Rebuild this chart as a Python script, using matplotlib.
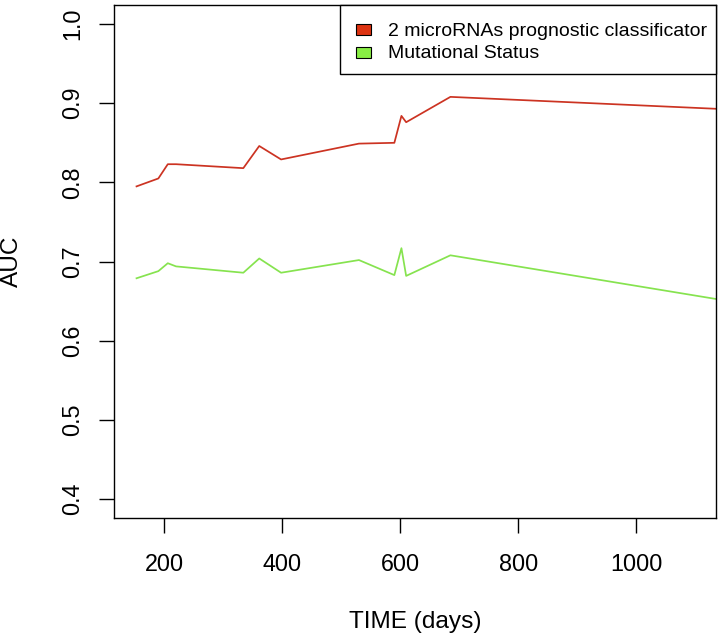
import matplotlib
matplotlib.use("Agg")
import matplotlib.pyplot as plt
from matplotlib.patches import Rectangle

plt.rcParams['font.family'] = ['Liberation Sans', 'DejaVu Sans']

# time points (days) and AUC values
days = [153, 190, 206, 220, 334, 361, 398, 530, 590, 602, 610, 685, 1134]
auc_mirna = [0.795, 0.805, 0.823, 0.823, 0.818, 0.846, 0.829, 0.849, 0.850, 0.884, 0.876, 0.908, 0.893]
auc_mut = [0.679, 0.688, 0.698, 0.694, 0.686, 0.704, 0.686, 0.702, 0.683, 0.717, 0.682, 0.708, 0.653]

labels = ["2 microRNAs prognostic classificator", "Mutational Status"]
line_cols = ["#cc3322", "#86e34f"]
fill_cols = ["#dd3311", "#88ee44"]

fig = plt.figure(figsize=(7.21, 6.39), dpi=100)
ax = fig.add_axes([0.1585, 0.1889, 0.8341, 0.8033])

ax.plot(days, auc_mirna, color=line_cols[0], lw=1.25)
ax.plot(days, auc_mut, color=line_cols[1], lw=1.25)

ax.set_xlim(115.3, 1134.6)
ax.set_ylim(0.376, 1.024)
ax.set_xticks([200, 400, 600, 800, 1000])
ax.set_yticks([0.4, 0.5, 0.6, 0.7, 0.8, 0.9, 1.0])
ax.set_yticklabels(["0.4", "0.5", "0.6", "0.7", "0.8", "0.9", "1.0"], rotation=90, va='center')
ax.tick_params(axis='both', labelsize=16.8, length=10.8, width=1.0)
ax.tick_params(axis='x', pad=14)
ax.tick_params(axis='y', pad=11)
for s in ax.spines.values():
    s.set_linewidth(1.0)

fig.text(415/721, 1 - 621.6/639, "TIME (days)", ha='center', va='center', fontsize=17.6)
fig.text(12/721, 1 - 261/639, "AUC", ha='center', va='center', rotation=90, fontsize=17.6)

# legend box drawn by hand, R style (in axes fraction)
ax.add_patch(Rectangle((0.3753, 0.8646), 0.6247, 0.1354, transform=ax.transAxes,
                       facecolor='white', edgecolor='black', lw=1.0, zorder=5, clip_on=False))
sw_w, sw_h = 15/601.4, 11/513.3
sw_y = [0.9523, 0.9084]
txt_y = [0.9493, 0.9055]
for i in range(2):
    ax.add_patch(Rectangle((0.4019, sw_y[i] - sw_h/2), sw_w, sw_h, transform=ax.transAxes,
                           facecolor=fill_cols[i], edgecolor='black', lw=0.8, zorder=6))
    ax.text(0.4555, txt_y[i], labels[i], transform=ax.transAxes, fontsize=14,
            ha='left', va='center', zorder=6)

fig.savefig("out.png", dpi=100)
